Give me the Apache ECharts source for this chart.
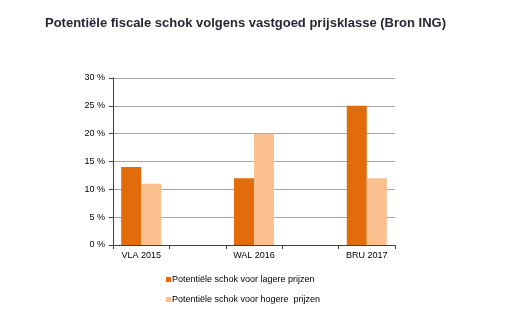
<!DOCTYPE html>
<html>
<head>
<meta charset="utf-8">
<script src="https://cdn.jsdelivr.net/npm/echarts@6/dist/echarts.min.js"></script>
<style>
  html, body { margin: 0; padding: 0; background: #fff; }
  #chart { width: 526px; height: 331px; }
</style>
</head>
<body>
<div id="chart"></div>
<script>
// Regions (empty slots keep the spacing between groups)
const categories = ['VLA 2015', '', 'WAL 2016', '', 'BRU 2017'];
const lowerPrices = [14, null, 12, null, 25];
const higherPrices = [11, null, 20, null, 12];
const yTicks = [0, 5, 10, 15, 20, 25, 30];

const chart = echarts.init(document.getElementById('chart'), null, { renderer: 'canvas' });
chart.setOption({
  animation: false,
  title: {
    text: 'Potentiële fiscale schok volgens vastgoed prijsklasse (Bron ING)',
    left: 40,
    top: 12,
    textStyle: { fontFamily: 'Liberation Sans, Arial', fontSize: 13, fontWeight: 'bold', color: '#262636' }
  },
  legend: {
    orient: 'vertical',
    left: 161,
    top: 270,
    itemWidth: 5,
    itemHeight: 5,
    itemGap: 11,
    icon: 'rect',
    textStyle: { fontFamily: 'Liberation Sans, Arial', fontSize: 9, color: '#000', padding: [0, 0, 0, -4] },
    data: ['Potentiële schok voor lagere prijzen', 'Potentiële schok voor hogere  prijzen']
  },
  grid: { left: 113, right: 131, top: 78, bottom: 86 },
  xAxis: {
    type: 'category',
    data: categories,
    axisLine: { lineStyle: { color: '#404040', width: 1 } },
    axisTick: { show: true, length: 4, lineStyle: { color: '#404040' } },
    axisLabel: { fontFamily: 'Liberation Sans, Arial', fontSize: 9, color: '#000', margin: 6, interval: 0 }
  },
  yAxis: {
    type: 'value',
    min: yTicks[0],
    max: yTicks[yTicks.length - 1],
    interval: 5,
    axisLine: { show: true, lineStyle: { color: '#404040', width: 1 } },
    axisTick: { show: true, length: 4, inside: false, lineStyle: { color: '#404040' } },
    splitLine: { lineStyle: { color: '#a6a6a6', width: 1 } },
    axisLabel: { fontFamily: 'Liberation Sans, Arial', fontSize: 9, color: '#000', margin: 8, formatter: v => v + ' %' }
  },
  series: [
    {
      name: 'Potentiële schok voor lagere prijzen',
      type: 'bar',
      data: lowerPrices,
      itemStyle: { color: '#E36C0A' },
      barGap: '0%',
      barCategoryGap: '29%'
    },
    {
      name: 'Potentiële schok voor hogere  prijzen',
      type: 'bar',
      data: higherPrices,
      itemStyle: { color: '#FAC090' }
    }
  ]
});
</script>
</body>
</html>
